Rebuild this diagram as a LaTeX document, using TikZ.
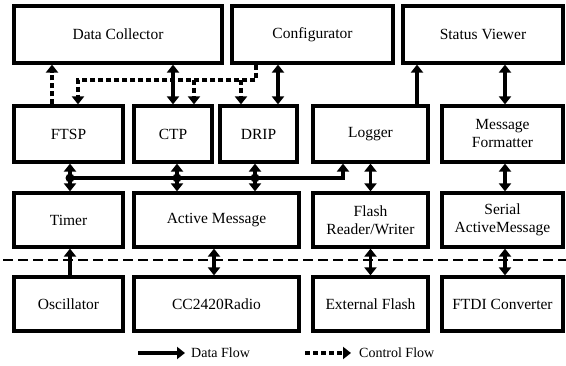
\documentclass[tikz,border=0pt]{standalone}
\usepackage{fontspec}
\setmainfont{Liberation Serif}
\usetikzlibrary{arrows.meta}

\tikzset{
  block/.style={draw, line width=3.2pt, align=center, inner sep=0pt,
    font=\fontsize{15.5}{18}\selectfont},
  dataflow/.style={line width=3.2pt, -{Triangle[width=12pt,length=8pt]}},
  databoth/.style={line width=3.2pt, {Triangle[width=12pt,length=8pt]}-{Triangle[width=12pt,length=8pt]}},
  ctrlflow/.style={line width=3.6pt, dash pattern=on 5pt off 3pt, -{Triangle[width=12pt,length=8pt]}},
  legendtext/.style={font=\fontsize{14}{16}\selectfont, anchor=west, inner sep=0pt}
}

\begin{document}
\begin{tikzpicture}[x=1pt, y=-1pt]
    \useasboundingbox (0,0) rectangle (566,366);

    % Applications
    \node[block, minimum width=208, minimum height=57] (dc) at (118,34.5) {Data Collector};
    \node[block, minimum width=161, minimum height=57] (cfg) at (312.5,34.5) {Configurator};
    \node[block, minimum width=160, minimum height=57] (sv) at (483,34.5) {Status Viewer};

    % Services
    \node[block, minimum width=109, minimum height=56] (ftsp) at (68.5,134) {FTSP};
    \node[block, minimum width=78, minimum height=56] (ctp) at (173,134) {CTP};
    \node[block, minimum width=77, minimum height=56] (drip) at (258.5,134) {DRIP};
    \node[block, minimum width=115, minimum height=56] (logger) at (370.5,134) {Logger};
    \node[block, minimum width=121, minimum height=56] (mf) at (502.5,134) {Message\\Formatter};

    % Drivers
    \node[block, minimum width=109, minimum height=54] (timer) at (68.5,220) {Timer};
    \node[block, minimum width=165, minimum height=54] (am) at (216.5,220) {Active Message};
    \node[block, minimum width=115, minimum height=54] (flash) at (370.5,220) {Flash\\Reader/Writer};
    \node[block, minimum width=121, minimum height=54] (sam) at (502.5,220) {Serial\\ActiveMessage};

    % Hardware
    \node[block, minimum width=109, minimum height=54] (osc) at (68.5,304) {Oscillator};
    \node[block, minimum width=165, minimum height=54] (radio) at (216.5,304) {CC2420Radio};
    \node[block, minimum width=115, minimum height=54] (ext) at (370.5,304) {External Flash};
    \node[block, minimum width=121, minimum height=54] (ftdi) at (502.5,304) {FTDI Converter};

    % Hardware boundary
    \draw[line width=1.8pt, dash pattern=on 10pt off 5pt] (3,260) -- (566,260);

    % Control flow
    \coordinate (cbus) at (0,80);
    \draw[ctrlflow] ([xshift=-16.5]ftsp.north) -- ([xshift=-16.5]ftsp.north |- dc.south);
    \draw[ctrlflow] ([xshift=-56.5]cfg.south) |- ([xshift=9.5]ftsp.north |- cbus) -- ([xshift=9.5]ftsp.north);
    \draw[ctrlflow] ([xshift=21]ctp.north |- cbus) -- ([xshift=21]ctp.north);
    \draw[ctrlflow] ([xshift=-17.5]drip.north |- cbus) -- ([xshift=-17.5]drip.north);

    % Data flow, top
    \draw[databoth] (ctp.north) -- (ctp.north |- dc.south);
    \draw[databoth] ([xshift=19.5]drip.north) -- ([xshift=19.5]drip.north |- cfg.south);
    \draw[dataflow] ([xshift=46.5]logger.north) -- ([xshift=46.5]logger.north |- sv.south);
    \draw[databoth] ([xshift=2.5]mf.north) -- ([xshift=2.5]mf.north |- sv.south);

    % Data flow, middle
    \coordinate (dbus) at (0,178);
    \draw[databoth] ([xshift=1.5]ftsp.south) -- ([xshift=1.5]ftsp.south |- timer.north);
    \draw[databoth] ([xshift=4]ctp.south) -- ([xshift=4]ctp.south |- am.north);
    \draw[databoth] ([xshift=-3.5]drip.south) -- ([xshift=-3.5]drip.south |- am.north);
    \draw[dataflow] ([xshift=1.5]ftsp.south |- dbus) -| ([xshift=-27.5]logger.south);
    \fill ([xshift=1.5]ftsp.south |- dbus) circle (4.5);
    \fill ([xshift=4]ctp.south |- dbus) circle (4.5);
    \fill ([xshift=-3.5]drip.south |- dbus) circle (4.5);
    \draw[databoth] (logger.south) -- (flash.north);
    \draw[databoth] ([xshift=2.5]mf.south) -- ([xshift=2.5]sam.north);

    % Data flow, bottom
    \draw[dataflow] ([xshift=1.5]osc.north) -- ([xshift=1.5]timer.south);
    \draw[databoth] ([xshift=-2.5]am.south) -- ([xshift=-2.5]radio.north);
    \draw[databoth] (flash.south) -- (ext.north);
    \draw[databoth] ([xshift=2.5]sam.south) -- ([xshift=2.5]ftdi.north);

    % Legend
    \coordinate (dl) at (138,353);
    \coordinate (dr) at (185,353);
    \coordinate (cl) at (305,353);
    \coordinate (cr) at (351,353);
    \draw[dataflow] (dl) -- (dr);
    \node[legendtext] (dtext) at (191,353) {Data Flow};
    \draw[ctrlflow] (cl) -- (cr);
    \node[legendtext] (ctext) at (359,353) {Control Flow};
\end{tikzpicture}
\end{document}
